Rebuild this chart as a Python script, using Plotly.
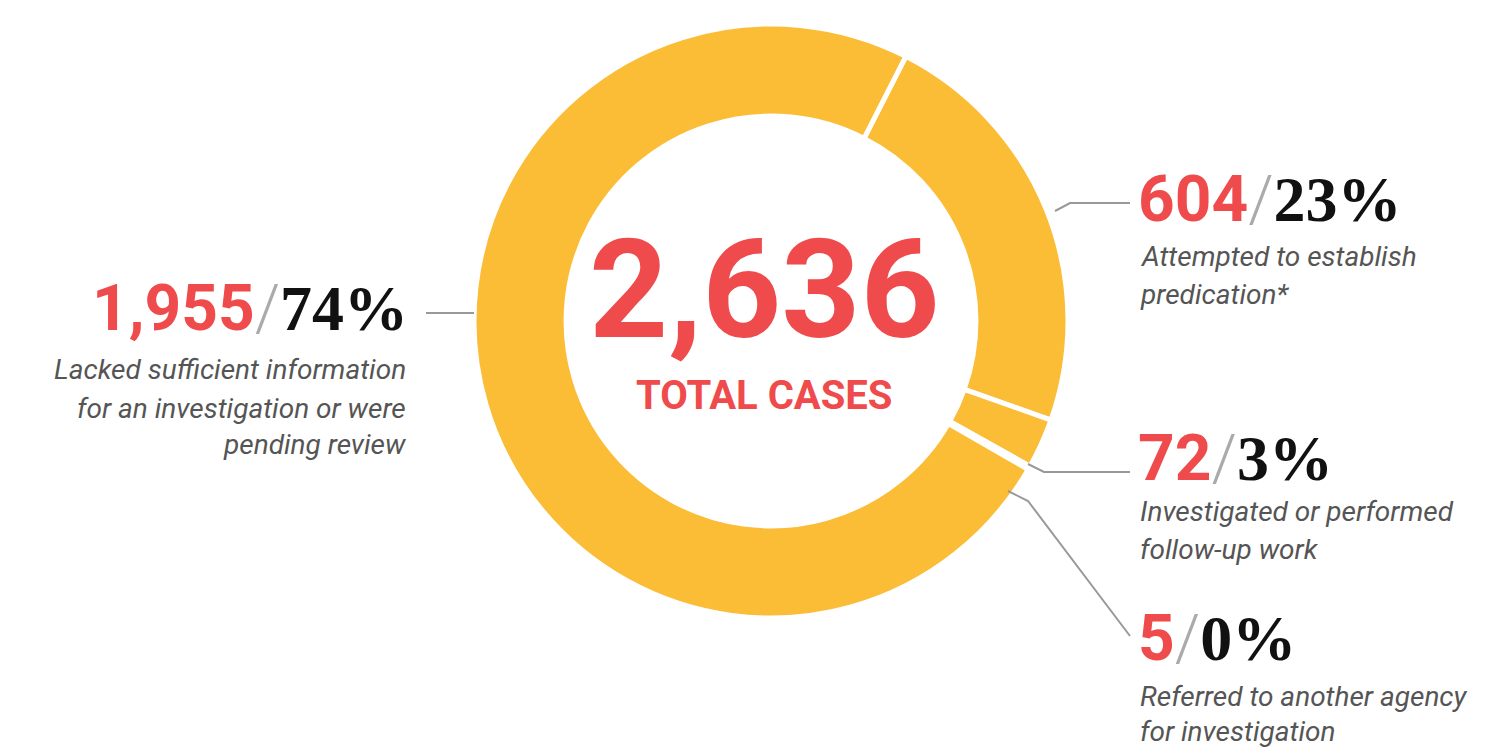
import plotly.graph_objects as go

categories = ["Attempted to establish predication*", "Investigated or performed follow-up work",
              "Referred to another agency for investigation",
              "Lacked sufficient information for an investigation or were pending review"]
counts = [604, 72, 5, 1955]
count_labels = ["604", "72", "5", "1,955"]
pct_labels = ["23%", "3%", "0%", "74%"]
desc_lines = [["Attempted to establish", "predication*"],
              ["Investigated or performed", "follow-up work"],
              ["Referred to another agency", "for investigation"],
              ["Lacked sufficient information", "for an investigation or were", "pending review"]]
total_label = "2,636"

W, H = 1500, 747
RED = "#F04B4C"
YEL = "#FBBC36"
GREY = "#555555"
SANS = "Roboto, sans-serif"
SERIF = "Liberation Serif, DejaVu Serif, serif"

def px(x, y):
    return x / W, 1 - y / H

fig = go.Figure(go.Pie(
    values=counts, labels=categories, hole=0.69, sort=False, direction="clockwise",
    rotation=27, marker=dict(colors=[YEL] * 4, line=dict(color="white", width=5)),
    textinfo="none", hoverinfo="label+value", showlegend=False,
    domain=dict(x=[(763 - 297) / W, (763 + 297) / W], y=[1 - (313 + 297) / H, 1 - (313 - 297) / H]),
))

ann = []
def add(x, y, text, size, color, family, xanchor="left", italic=False, bold=False):
    t = f"<b>{text}</b>" if bold else text
    t = f"<i>{t}</i>" if italic else t
    ax, ay = px(x, y)
    ann.append(dict(x=ax, y=ay, xref="paper", yref="paper", text=t, showarrow=False,
                    xanchor=xanchor, yanchor="middle", font=dict(size=size, color=color, family=family)))

add(756, 282, total_label, 138, RED, SANS, "center", bold=True)
add(756, 387, "TOTAL CASES", 40, RED, SANS, "center", bold=True)

def head(i):
    return (f"<span style='color:{RED}'><b>{count_labels[i]}</b></span>"
            f"<span style='color:#aaaaaa;font-weight:300'>/</span>"
            f"<span style='color:#111;font-family:{SERIF}'><b>{pct_labels[i]}</b></span>")

right = [(0, 192, [248, 286]), (1, 450, [503, 541]), (2, 630, [688, 723])]
for i, hy, dys in right:
    add(1128, hy, head(i), 64, RED, SANS)
    for line, dy in zip(desc_lines[i], dys):
        add(1130, dy, line, 28, GREY, SANS, italic=True)
add(402, 300, head(3), 64, RED, SANS, "right")
for line, dy in zip(desc_lines[3], [361, 400, 437]):
    add(400, dy, line, 28, GREY, SANS, "right", italic=True)

shapes = []
def path(pts):
    d = "M " + " L ".join(f"{px(x, y)[0]} {px(x, y)[1]}" for x, y in pts)
    shapes.append(dict(type="path", path=d, xref="paper", yref="paper",
                       line=dict(color="#999999", width=2)))
path([(1047, 203), (1062, 195), (1122, 195)])
path([(418, 305), (466, 305)])
path([(1020, 456), (1036, 464), (1122, 464)])
path([(1000, 483), (1020, 493), (1122, 628)])

fig.update_layout(width=W, height=H, margin=dict(l=0, r=0, t=0, b=0),
                  paper_bgcolor="white", plot_bgcolor="white", annotations=ann, shapes=shapes)
fig.write_html("out.html")
